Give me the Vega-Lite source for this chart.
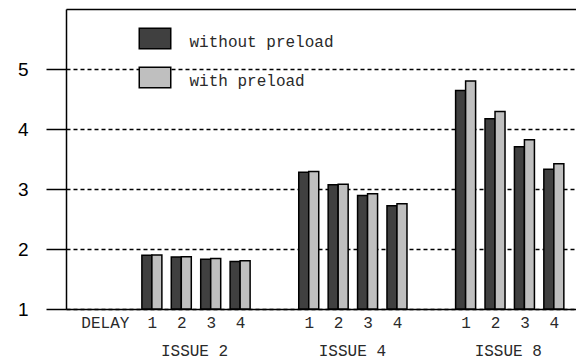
{
  "$schema": "https://vega.github.io/schema/vega-lite/v6.json",
  "autosize": "none",
  "padding": {"left": 66, "top": 9, "right": 0, "bottom": 50},
  "width": 510,
  "height": 300,
  "data": {
    "values": [
      {"issue": "ISSUE 2", "delay": 1, "x": 3, "series": "without preload", "value": 1.895},
      {"issue": "ISSUE 2", "delay": 2, "x": 6, "series": "without preload", "value": 1.867},
      {"issue": "ISSUE 2", "delay": 3, "x": 9, "series": "without preload", "value": 1.83},
      {"issue": "ISSUE 2", "delay": 4, "x": 12, "series": "without preload", "value": 1.79},
      {"issue": "ISSUE 2", "delay": 1, "x": 3, "series": "with preload", "value": 1.9},
      {"issue": "ISSUE 2", "delay": 2, "x": 6, "series": "with preload", "value": 1.872},
      {"issue": "ISSUE 2", "delay": 3, "x": 9, "series": "with preload", "value": 1.84},
      {"issue": "ISSUE 2", "delay": 4, "x": 12, "series": "with preload", "value": 1.805},
      {"issue": "ISSUE 4", "delay": 1, "x": 19, "series": "without preload", "value": 3.28},
      {"issue": "ISSUE 4", "delay": 2, "x": 22, "series": "without preload", "value": 3.07},
      {"issue": "ISSUE 4", "delay": 3, "x": 25, "series": "without preload", "value": 2.89},
      {"issue": "ISSUE 4", "delay": 4, "x": 28, "series": "without preload", "value": 2.72},
      {"issue": "ISSUE 4", "delay": 1, "x": 19, "series": "with preload", "value": 3.29},
      {"issue": "ISSUE 4", "delay": 2, "x": 22, "series": "with preload", "value": 3.08},
      {"issue": "ISSUE 4", "delay": 3, "x": 25, "series": "with preload", "value": 2.92},
      {"issue": "ISSUE 4", "delay": 4, "x": 28, "series": "with preload", "value": 2.755},
      {"issue": "ISSUE 8", "delay": 1, "x": 35, "series": "without preload", "value": 4.64},
      {"issue": "ISSUE 8", "delay": 2, "x": 38, "series": "without preload", "value": 4.17},
      {"issue": "ISSUE 8", "delay": 3, "x": 41, "series": "without preload", "value": 3.705},
      {"issue": "ISSUE 8", "delay": 4, "x": 44, "series": "without preload", "value": 3.33},
      {"issue": "ISSUE 8", "delay": 1, "x": 35, "series": "with preload", "value": 4.8},
      {"issue": "ISSUE 8", "delay": 2, "x": 38, "series": "with preload", "value": 4.29},
      {"issue": "ISSUE 8", "delay": 3, "x": 41, "series": "with preload", "value": 3.82},
      {"issue": "ISSUE 8", "delay": 4, "x": 44, "series": "with preload", "value": 3.42}
    ]
  },
  "encoding": {
    "y": {
      "field": "value",
      "type": "quantitative",
      "scale": {"domain": [1, 6], "nice": false, "zero": false},
      "axis": {
        "title": null,
        "values": [1, 2, 3, 4, 5],
        "tickSize": 20,
        "tickColor": "black",
        "tickWidth": 1.5,
        "labelFont": "Liberation Sans",
        "labelFontSize": 19,
        "labelColor": "black",
        "labelPadding": 18,
        "domainColor": "black",
        "domainWidth": 1.5,
        "grid": true,
        "gridColor": "black",
        "gridWidth": 1.4,
        "gridDash": [4, 3],
        "gridOpacity": 1
      }
    },
    "y2": {"datum": 1},
    "color": {
      "field": "series",
      "type": "nominal",
      "scale": {"domain": ["without preload", "with preload"], "range": ["#404040", "#bfbfbf"]},
      "legend": {
        "orient": "none",
        "legendX": 72.5,
        "legendY": 13,
        "title": null,
        "padding": 0,
        "symbolType": "M-1,-0.65H1V0.65H-1Z",
        "symbolSize": 992,
        "symbolStrokeColor": "black",
        "symbolStrokeWidth": 1.5,
        "symbolOpacity": 1,
        "labelFont": "Liberation Mono",
        "labelFontSize": 16,
        "labelColor": "#2a2a2a",
        "labelOffset": 18,
        "rowPadding": 9,
        "labelLimit": 300,
        "encode": {"labels": {"update": {"dy": {"value": 3.5}}}}
      }
    }
  },
  "layer": [
    {
      "transform": [{"filter": "datum.series == 'without preload'"}],
      "mark": {"type": "bar", "width": 10, "xOffset": -5, "stroke": "black", "strokeWidth": 1.5, "opacity": 1},
      "encoding": {
        "x": {
          "field": "x",
          "type": "quantitative",
          "scale": {"domain": [-5.25, 45.75], "nice": false, "zero": false},
          "axis": {
            "title": null,
            "orient": "bottom",
            "values": [-1.8, 3, 6, 9, 12, 19, 22, 25, 28, 35, 38, 41, 44, 7.3, 23.4, 39.3],
            "labelExpr": "datum.value == 7.3 ? ['', 'ISSUE 2'] : datum.value == 23.4 ? ['', 'ISSUE 4'] : datum.value == 39.3 ? ['', 'ISSUE 8'] : datum.value < 0 ? 'DELAY' : '' + ((datum.value % 16) / 3)",
            "ticks": false,
            "grid": false,
            "labelOverlap": false,
            "labelFlush": false,
            "labelBound": false,
            "labelFont": "Liberation Mono",
            "labelFontSize": 16,
            "labelColor": "#2a2a2a",
            "labelPadding": 5,
            "labelLineHeight": 28.5,
            "labelBaseline": "top",
            "domainColor": "black",
            "domainWidth": 1.5
          }
        }
      }
    },
    {
      "transform": [{"filter": "datum.series == 'with preload'"}],
      "mark": {"type": "bar", "width": 10, "xOffset": 5, "stroke": "black", "strokeWidth": 1.5, "opacity": 1},
      "encoding": {
        "x": {
          "field": "x",
          "type": "quantitative",
          "axis": {
            "title": null,
            "orient": "top",
            "labels": false,
            "ticks": false,
            "grid": false,
            "domainColor": "black",
            "domainWidth": 1.5
          }
        }
      }
    }
  ],
  "resolve": {"axis": {"x": "independent"}},
  "config": {"view": {"stroke": null}}
}
